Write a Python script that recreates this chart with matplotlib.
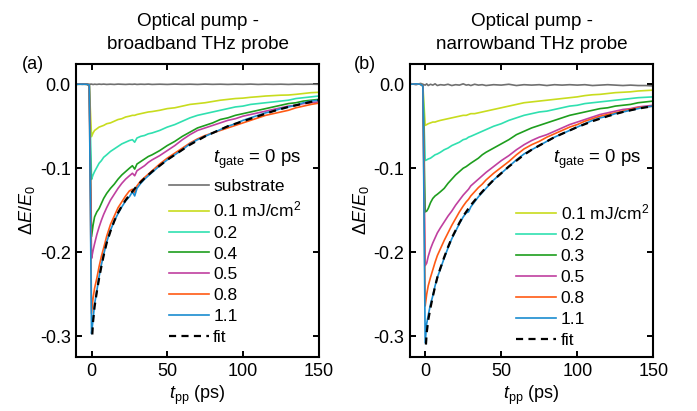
import matplotlib
matplotlib.use("Agg")
import matplotlib.pyplot as plt
from matplotlib.ticker import FormatStrFormatter

plt.rcParams['font.family'] = ['Liberation Sans', 'DejaVu Sans']
plt.rcParams['mathtext.fontset'] = 'custom'
plt.rcParams['mathtext.rm'] = 'Liberation Sans'
plt.rcParams['mathtext.it'] = 'Liberation Sans:italic'
plt.rcParams['mathtext.bf'] = 'Liberation Sans:bold'
plt.rcParams['axes.unicode_minus'] = False

# ---------------- data ----------------
t_grid = [-10, -6, -3, -1.5, 0, 1, 2, 3.5, 5, 6.5, 8, 10, 12.5, 15, 17.5, 20, 22.5, 25, 27, 28.5,
          30, 32.5, 35, 37.5, 40, 45, 50, 55, 60, 65, 70, 75, 80, 85, 90, 95, 100, 105, 110, 115,
          120, 125, 130, 135, 140, 145, 150]
t_fit = [0.5, 1, 2, 3.5, 5, 6.5, 8, 10, 12.5, 15, 17.5, 20, 22.5, 25, 30, 35, 40, 45, 50, 55,
         60, 65, 70, 75, 80, 85, 90, 95, 100, 110, 120, 130, 140, 150]

# panel (a): broadband probe
a_substrate = [0.0003, -0.0002, 0.0002, 0.0, 0.0002, -0.0003, 0.0001, -0.0002, 0.0002, -0.0001, 0.0002,
               -0.0002, 0.0001, -0.0002, 0.0002, 0.0, -0.0002, 0.0001, -0.0001, 0.0002, -0.0002, 0.0001,
               -0.0001, 0.0002, -0.0002, 0.0001, -0.0002, 0.0002, -0.0001, 0.0001, -0.0002, 0.0002,
               -0.0001, 0.0001, -0.0002, 0.0001, -0.0001, 0.0002, -0.0002, 0.0001, -0.0001, 0.0001,
               -0.0002, 0.0001, -0.0001, 0.0001, -0.0001]
a_01 = [0.0, 0.0002, 0.0, -0.001, -0.0624, -0.058, -0.055, -0.053, -0.051, -0.050, -0.049, -0.047,
        -0.046, -0.044, -0.042, -0.041, -0.039, -0.038, -0.037, -0.037, -0.036, -0.035, -0.034, -0.033,
        -0.0325, -0.031, -0.029, -0.028, -0.026, -0.024, -0.023, -0.022, -0.0205, -0.019, -0.018,
        -0.017, -0.0165, -0.0155, -0.0148, -0.014, -0.0135, -0.013, -0.0128, -0.012, -0.011, -0.010,
        -0.0096]
a_02 = [0.0, 0.0002, 0.0, -0.001, -0.1133, -0.108, -0.104, -0.099, -0.094, -0.091, -0.087, -0.084,
        -0.080, -0.077, -0.074, -0.071, -0.069, -0.067, -0.066, -0.069, -0.064, -0.062, -0.061, -0.059,
        -0.058, -0.055, -0.051, -0.048, -0.044, -0.040, -0.037, -0.035, -0.033, -0.031, -0.029,
        -0.027, -0.026, -0.024, -0.023, -0.022, -0.021, -0.020, -0.019, -0.017, -0.016, -0.015,
        -0.014]
a_04 = [0.0, 0.0002, 0.0, -0.001, -0.1815, -0.168, -0.158, -0.152, -0.148, -0.142, -0.136, -0.130,
        -0.124, -0.119, -0.113, -0.108, -0.104, -0.100, -0.097, -0.101, -0.095, -0.092, -0.089, -0.086,
        -0.084, -0.079, -0.073, -0.068, -0.062, -0.057, -0.052, -0.049, -0.046, -0.042, -0.040,
        -0.037, -0.035, -0.033, -0.031, -0.029, -0.027, -0.025, -0.023, -0.022, -0.020, -0.019,
        -0.018]
a_05 = [0.0, 0.0002, 0.0, -0.001, -0.2074, -0.198, -0.190, -0.179, -0.170, -0.162, -0.155, -0.147,
        -0.138, -0.131, -0.124, -0.118, -0.113, -0.109, -0.106, -0.109, -0.103, -0.100, -0.097, -0.093,
        -0.090, -0.085, -0.079, -0.073, -0.066, -0.060, -0.055, -0.052, -0.049, -0.046, -0.043,
        -0.041, -0.038, -0.036, -0.034, -0.032, -0.030, -0.028, -0.026, -0.025, -0.023, -0.022,
        -0.021]
a_08 = [0.0, 0.0002, 0.0, -0.001, -0.273, -0.255, -0.243, -0.231, -0.217, -0.205, -0.195, -0.181,
        -0.167, -0.157, -0.147, -0.140, -0.133, -0.127, -0.125, -0.129, -0.121, -0.115, -0.111, -0.107,
        -0.103, -0.095, -0.088, -0.082, -0.076, -0.070, -0.065, -0.061, -0.058, -0.055, -0.052,
        -0.049, -0.046, -0.043, -0.040, -0.037, -0.035, -0.033, -0.031, -0.028, -0.026, -0.024,
        -0.0225]
a_11 = [0.0, 0.0002, 0.0, -0.001, -0.297, -0.280, -0.262, -0.246, -0.229, -0.215, -0.203, -0.188,
        -0.174, -0.163, -0.154, -0.146, -0.139, -0.134, -0.128, -0.133, -0.124, -0.118, -0.113, -0.109,
        -0.105, -0.097, -0.090, -0.084, -0.078, -0.071, -0.066, -0.062, -0.058, -0.054, -0.050,
        -0.047, -0.043, -0.040, -0.037, -0.034, -0.032, -0.029, -0.027, -0.025, -0.022, -0.020,
        -0.019]
a_fit = [-0.298, -0.283, -0.265, -0.247, -0.231, -0.217, -0.204, -0.189, -0.175, -0.163, -0.153,
         -0.145, -0.138, -0.132, -0.121, -0.112, -0.104, -0.097, -0.090, -0.084, -0.078, -0.072,
         -0.067, -0.062, -0.058, -0.054, -0.050, -0.047, -0.044, -0.038, -0.032, -0.027, -0.023,
         -0.019]

# panel (b): narrowband probe
b_substrate = [0.001, -0.0005, 0.001, 0.0, -0.001, 0.0005, -0.0015, 0.0, -0.001, 0.0005, -0.0015,
               -0.0005, -0.001, 0.0, -0.0015, -0.0005, -0.001, 0.0005, -0.001, -0.0005, -0.0015, 0.0,
               -0.001, -0.0005, -0.0015, -0.0005, -0.001, 0.0, -0.0015, -0.0005, -0.001, -0.0005,
               -0.0015, -0.0005, -0.001, -0.0005, -0.001, -0.0005, -0.0015, -0.001, -0.0005, -0.001,
               -0.0015, -0.001, -0.0015, -0.0015, -0.002]
b_01 = [0.0, 0.0005, 0.0, -0.002, -0.049, -0.048, -0.047, -0.046, -0.045, -0.045, -0.044, -0.043,
        -0.042, -0.041, -0.040, -0.039, -0.038, -0.037, -0.037, -0.036, -0.035, -0.035, -0.034, -0.033,
        -0.032, -0.030, -0.028, -0.026, -0.024, -0.022, -0.021, -0.020, -0.019, -0.018, -0.017,
        -0.016, -0.015, -0.0135, -0.0125, -0.012, -0.011, -0.010, -0.0095, -0.009, -0.008, -0.0075,
        -0.007]
b_02 = [0.0, 0.0005, 0.0, -0.002, -0.0908, -0.090, -0.089, -0.088, -0.086, -0.084, -0.083, -0.081,
        -0.078, -0.076, -0.073, -0.071, -0.069, -0.066, -0.065, -0.063, -0.062, -0.060, -0.058, -0.056,
        -0.054, -0.050, -0.047, -0.043, -0.040, -0.037, -0.035, -0.033, -0.032, -0.030, -0.028,
        -0.026, -0.025, -0.023, -0.022, -0.021, -0.020, -0.019, -0.018, -0.017, -0.016, -0.0155,
        -0.015]
b_03 = [0.0, 0.0005, 0.0, -0.002, -0.152, -0.151, -0.148, -0.141, -0.136, -0.133, -0.131, -0.128,
        -0.124, -0.118, -0.113, -0.108, -0.104, -0.100, -0.098, -0.096, -0.094, -0.091, -0.088, -0.084,
        -0.081, -0.076, -0.071, -0.066, -0.060, -0.056, -0.052, -0.049, -0.046, -0.043, -0.040,
        -0.037, -0.035, -0.033, -0.031, -0.029, -0.028, -0.026, -0.025, -0.024, -0.022, -0.021,
        -0.020]
b_05 = [0.0, 0.0005, 0.0, -0.002, -0.216, -0.213, -0.205, -0.196, -0.189, -0.183, -0.177, -0.171,
        -0.164, -0.157, -0.151, -0.144, -0.138, -0.132, -0.128, -0.125, -0.121, -0.117, -0.113, -0.109,
        -0.105, -0.098, -0.091, -0.085, -0.078, -0.072, -0.067, -0.063, -0.060, -0.056, -0.052,
        -0.048, -0.045, -0.042, -0.039, -0.036, -0.034, -0.032, -0.030, -0.029, -0.027, -0.026,
        -0.025]
b_08 = [0.0, 0.0005, 0.0, -0.002, -0.264, -0.250, -0.240, -0.230, -0.221, -0.212, -0.204, -0.196,
        -0.186, -0.177, -0.168, -0.160, -0.152, -0.145, -0.140, -0.137, -0.133, -0.128, -0.123, -0.119,
        -0.114, -0.106, -0.099, -0.092, -0.084, -0.077, -0.072, -0.068, -0.063, -0.059, -0.055,
        -0.051, -0.048, -0.044, -0.041, -0.038, -0.036, -0.034, -0.032, -0.030, -0.028, -0.027,
        -0.026]
b_11 = [0.0, 0.0005, 0.0, -0.002, -0.308, -0.285, -0.275, -0.262, -0.252, -0.240, -0.230, -0.220,
        -0.207, -0.195, -0.184, -0.175, -0.166, -0.158, -0.153, -0.152, -0.146, -0.140, -0.134, -0.129,
        -0.124, -0.114, -0.106, -0.098, -0.090, -0.083, -0.078, -0.073, -0.068, -0.063, -0.059,
        -0.055, -0.051, -0.047, -0.043, -0.040, -0.038, -0.035, -0.033, -0.031, -0.029, -0.027,
        -0.026]
b_fit = [-0.310, -0.296, -0.281, -0.266, -0.253, -0.241, -0.230, -0.219, -0.206, -0.194, -0.183,
         -0.174, -0.165, -0.157, -0.144, -0.133, -0.123, -0.114, -0.106, -0.098, -0.091, -0.084,
         -0.078, -0.073, -0.068, -0.063, -0.059, -0.055, -0.051, -0.044, -0.038, -0.033, -0.029,
         -0.026]

a_labels = ['substrate', '0.1 mJ/cm$^2$', '0.2', '0.4', '0.5', '0.8', '1.1', 'fit']
b_labels = ['0.1 mJ/cm$^2$', '0.2', '0.3', '0.5', '0.8', '1.1', 'fit']
titles = ['Optical pump -\nbroadband THz probe', 'Optical pump -\nnarrowband THz probe']
panel_tags = ['(a)', '(b)']
x_ticks = [0, 50, 100, 150]
y_ticks = [0.0, -0.1, -0.2, -0.3]

colors = ['#707070', '#c8dc1e', '#30e0b0', '#1e9e1e', '#c040a0', '#ff5a14', '#1a8cd0']

# ---------------- figure ----------------
fig = plt.figure(figsize=(6.97, 4.11), dpi=100)
axes = [fig.add_axes([0.1096, 0.131, 0.3476, 0.713]),
        fig.add_axes([0.5882, 0.131, 0.3491, 0.713])]

panels = [
    ([a_substrate, a_01, a_02, a_04, a_05, a_08, a_11], a_fit, a_labels, True),
    ([b_substrate, b_01, b_02, b_03, b_05, b_08, b_11], b_fit, b_labels, False),
]

FS = 13
for i, (ax, (series, fit, labels, sub_in_legend)) in enumerate(zip(axes, panels)):
    handles = []
    for j, (ys, c) in enumerate(zip(series, colors)):
        ln, = ax.plot(t_grid, ys, color=c, lw=1.2)
        if j > 0 or sub_in_legend:
            handles.append(ln)
    fl, = ax.plot(t_fit, fit, color='black', lw=1.6, dashes=(3.2, 2.4))
    handles.append(fl)

    ax.set_xlim(-10, 150)
    ax.set_ylim(-0.325, 0.024)
    ax.set_xticks(x_ticks)
    ax.set_yticks(y_ticks)
    ax.yaxis.set_major_formatter(FormatStrFormatter('%.1f'))
    ax.tick_params(direction='in', top=True, right=True, length=4, width=1.4,
                   labelsize=FS, pad=4)
    for s in ax.spines.values():
        s.set_linewidth(1.5)
    ax.set_xlabel('$t_\\mathrm{pp}$ (ps)', fontsize=FS, labelpad=3)
    ax.set_ylabel('$\\Delta E/E_0$', fontsize=FS, labelpad=2)
    ax.set_title(titles[i], fontsize=13.6, linespacing=1.42, pad=11)
    tag_x = -0.179 if i == 0 else -0.185
    ax.text(tag_x, 0.997, panel_tags[i], transform=ax.transAxes, fontsize=FS,
            ha='center', va='center')
    tx = 0.564 if i == 0 else 0.588
    ax.text(tx, 0.676, '$t_\\mathrm{gate}$ = 0 ps', transform=ax.transAxes,
            fontsize=13.3, ha='left', va='center')
    ax.legend(handles, labels, loc='upper left',
              bbox_to_anchor=(0.382 if i == 0 else 0.437, 0.608 if i == 0 else 0.528),
              frameon=False, fontsize=12.5, handlelength=2.3, handletextpad=0.25,
              labelspacing=0.33, borderpad=0, borderaxespad=0)

fig.savefig('out.png', dpi=100)
